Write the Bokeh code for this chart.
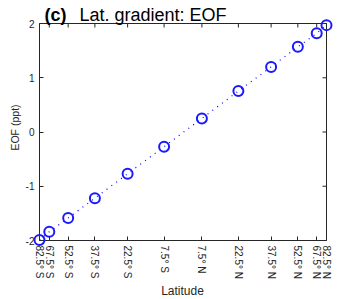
import numpy as np
from bokeh.plotting import figure
from bokeh.models import FixedTicker, Label, Range1d, LinearAxis
from bokeh.embed import file_html
from bokeh.resources import INLINE

# ---- data ----
lat_deg = [-82.5, -67.5, -52.5, -37.5, -22.5, -7.5, 7.5, 22.5, 37.5, 52.5, 67.5, 82.5]
lat_labels = ["82.5° S", "67.5° S", "52.5° S", "37.5° S", "22.5° S", "7.5° S",
              "7.5° N", "22.5° N", "37.5° N", "52.5° N", "67.5° N", "82.5° N"]
eof = [-1.99, -1.84, -1.585, -1.22, -0.77, -0.27, 0.25, 0.755, 1.20, 1.57, 1.82, 1.97]
y_ticks = [-2, -1, 0, 1, 2]
y_tick_labels = ["-2", "-1", "0", "1", "2"]

x_pos = [float(v) for v in np.sin(np.deg2rad(lat_deg))]

AX = "#262626"
FONT = "Liberation Sans"

# ---- layout (pixels) ----
W, H = 350, 299
BL, BR, BT, BB = 39, 326, 23, 240   # data box edges on the canvas
x0, x1 = x_pos[0], x_pos[-1]
y0, y1 = y_ticks[0], y_ticks[-1]
kx = (BR - BL) / (x1 - x0)
ky = (BB - BT) / (y1 - y0)

def px_x(px):
    return x0 + (px - BL) / kx

def px_y(py):
    return y1 - (py - BT) / ky

p = figure(width=W, height=H, output_backend="svg", toolbar_location=None,
           x_range=Range1d(px_x(0), px_x(W)), y_range=Range1d(px_y(H), px_y(0)),
           min_border=0, min_border_left=0, min_border_right=0,
           min_border_top=0, min_border_bottom=0,
           x_axis_location=None, y_axis_location=None)
p.title.visible = False
p.grid.visible = False
p.outline_line_color = None
p.background_fill_color = "white"
p.border_fill_color = "white"

def style(ax):
    ax.axis_line_color = None
    ax.major_tick_in = 4
    ax.major_tick_out = 0
    ax.major_tick_line_color = AX
    ax.minor_tick_line_color = None
    ax.major_label_text_font = FONT
    ax.major_label_text_color = AX

xa = LinearAxis(ticker=FixedTicker(ticks=x_pos), fixed_location=y0)
xa.major_label_overrides = {x: l for x, l in zip(x_pos, lat_labels)}
xa.major_label_orientation = "vertical"
style(xa)
xa.major_label_text_font_size = "10px"
xa.major_label_standoff = 5
p.add_layout(xa, "below")

ya = LinearAxis(ticker=FixedTicker(ticks=y_ticks), fixed_location=x0)
ya.major_label_overrides = {t: l for t, l in zip(y_ticks, y_tick_labels)}
style(ya)
ya.major_label_text_font_size = "10px"
ya.major_label_standoff = 5
p.add_layout(ya, "left")

# axes box
p.quad(left=[x0], right=[x1], bottom=[y0], top=[y1], fill_color=None,
       line_color=AX, line_width=1)
# inward ticks on the top and right edges of the box
p.ray(x=x_pos, y=[y1] * len(x_pos), length=4, length_units="screen",
      angle=-np.pi / 2, line_color=AX, line_width=1)
p.ray(x=[x1] * len(y_ticks), y=y_ticks, length=4, length_units="screen",
      angle=np.pi, line_color=AX, line_width=1)

p.line(x_pos, eof, line_color="blue", line_width=1.2, line_dash="1 5")
p.scatter(x_pos, eof, size=10, line_color="#1a1aff", line_width=2, fill_color=None)

# axis titles
p.add_layout(Label(x=px_x(182), y=px_y(290), text="Latitude",
                   text_font=FONT, text_font_size="12px", text_color=AX,
                   text_align="center", text_baseline="alphabetic"))
p.add_layout(Label(x=px_x(14), y=px_y(127), text="EOF (ppt)", angle=np.pi / 2,
                   text_font=FONT, text_font_size="10.5px", text_color=AX,
                   text_align="center", text_baseline="alphabetic"))

# panel title
p.add_layout(Label(x=px_x(44), y=px_y(14.5), text="(c)",
                   text_font=FONT, text_font_size="18px", text_font_style="bold",
                   text_color="black", text_baseline="alphabetic"))
p.add_layout(Label(x=px_x(79), y=px_y(14.5), text="Lat. gradient: EOF",
                   text_font=FONT, text_font_size="18px",
                   text_color="black", text_baseline="alphabetic"))

open("out.html", "w").write(file_html(p, INLINE))
